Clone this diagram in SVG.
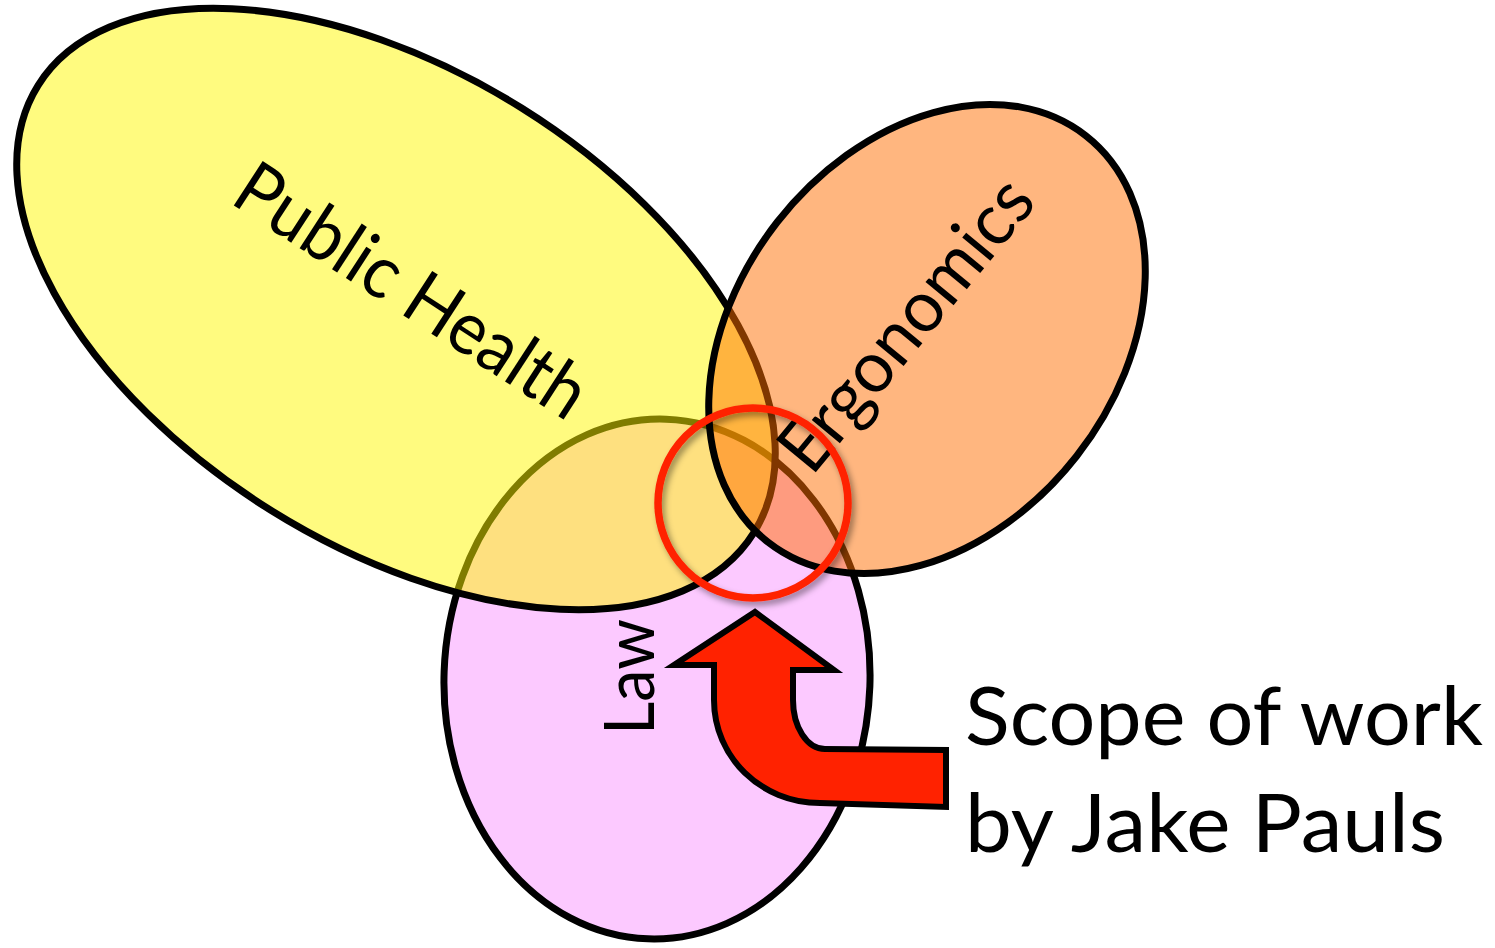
<svg xmlns="http://www.w3.org/2000/svg" width="1495" height="948" viewBox="0 0 1495 948">
  <style>
    .set { stroke: #000; stroke-width: 7; }
    .lbl { font-family: Lato, "Open Sans", "Liberation Sans", sans-serif; fill: #000; }
  </style>
  <defs>
    <filter id="shadow" x="-20%" y="-20%" width="140%" height="140%">
      <feDropShadow dx="3" dy="4" stdDeviation="3" flood-color="#000" flood-opacity="0.4"/>
    </filter>
  </defs>
  <rect width="1495" height="948" fill="#fff"/>

  <g id="law">
    <ellipse class="set" cx="657" cy="679" rx="213" ry="260" transform="rotate(2 657 679)" fill="#FCC9FF"/>
    <text class="lbl" font-size="70" text-anchor="middle" textLength="116" lengthAdjust="spacingAndGlyphs" transform="translate(654 677) rotate(-90)">Law</text>
  </g>

  <g id="public-health">
    <ellipse class="set" cx="396" cy="309" rx="422" ry="237" transform="rotate(32 396 309)" fill="#FFF800" fill-opacity="0.5"/>
    <text class="lbl" font-size="74" text-anchor="middle" textLength="404" lengthAdjust="spacingAndGlyphs" transform="translate(398 312) rotate(33)">Public Health</text>
  </g>

  <g id="ergonomics">
    <ellipse class="set" cx="927" cy="339" rx="258" ry="190" transform="rotate(-52 927 339)" fill="#FF6E00" fill-opacity="0.5"/>
    <text class="lbl" font-size="72" text-anchor="middle" textLength="356" lengthAdjust="spacingAndGlyphs" transform="translate(925 340) rotate(-50.5)">Ergonomics</text>
  </g>

  <g id="scope-circle">
    <circle cx="753" cy="503" r="95" fill="none" stroke="#FF2200" stroke-width="7.5" filter="url(#shadow)"/>
  </g>

  <g id="connectors">
    <path d="M755 612 L834 670 L793 670 L793 700 C793 727 807 749 825 749 L946 750 L946 807 L820 803 C761 803 714 757 714 700 L714 665 L674 665 Z" fill="#FF2200" stroke="#000" stroke-width="6" stroke-linejoin="miter"/>
  </g>

  <g id="scope-label">
    <text class="lbl" font-size="82" x="965" y="745" textLength="518" lengthAdjust="spacingAndGlyphs">Scope of work</text>
    <text class="lbl" font-size="82" x="965" y="852" textLength="480" lengthAdjust="spacingAndGlyphs">by Jake Pauls</text>
  </g>
</svg>
